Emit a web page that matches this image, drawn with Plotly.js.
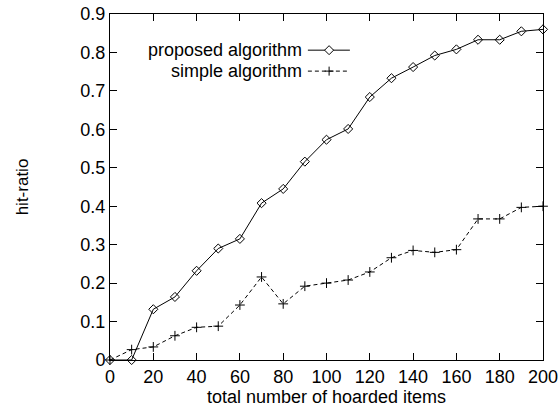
<!DOCTYPE html>
<html>
<head>
<meta charset="utf-8">
<script src="https://cdn.plot.ly/plotly-3.0.1.min.js"></script>
<style>html,body{margin:0;padding:0;background:#fff;}#chart{width:560px;height:407px;}</style>
</head>
<body>
<div id="chart"></div>
<script>
const xItems = [0,10,20,30,40,50,60,70,80,90,100,110,120,130,140,150,160,170,180,190,200];
const proposed = [0,0,0.132,0.164,0.232,0.29,0.315,0.408,0.445,0.516,0.573,0.601,0.684,0.733,0.762,0.792,0.808,0.833,0.833,0.855,0.86];
const simple = [0,0.027,0.034,0.063,0.085,0.088,0.143,0.216,0.146,0.192,0.2,0.208,0.229,0.266,0.285,0.28,0.287,0.367,0.367,0.397,0.4];
const seriesNames = ["proposed algorithm","simple algorithm"];
const xTicks = [0,20,40,60,80,100,120,140,160,180,200];
const yTicks = [0,0.1,0.2,0.3,0.4,0.5,0.6,0.7,0.8,0.9];

const FONT = "Liberation Sans, Arial, sans-serif";
const FS = 18;

const traces = [
  {x:xItems, y:proposed, name:seriesNames[0], type:'scatter', mode:'lines+markers',
   line:{color:'#000', width:1}, marker:{symbol:'diamond-open', size:7, color:'#000', line:{width:1, color:'#000'}}, cliponaxis:false},
  {x:xItems, y:simple, name:seriesNames[1], type:'scatter', mode:'lines+markers',
   line:{color:'#000', width:1, dash:'4px,3px'}, marker:{symbol:'cross-thin-open', size:7, color:'#000', line:{width:1, color:'#000'}}, cliponaxis:false}
];

const axisCommon = {showgrid:false, zeroline:false, showline:true, linecolor:'#000', linewidth:1,
  ticks:'inside', ticklen:7, tickwidth:1, tickcolor:'#000', mirror:'ticks',
  tickfont:{family:FONT, size:FS, color:'#000'}};

const rowY = [0.8955, 0.8349];
const textX = 0.4457, lineX0 = 0.457, lineX1 = 0.554, markX = 0.506;

const layout = {
  width:560, height:407,
  margin:{l:110, r:17, t:13.5, b:47},
  paper_bgcolor:'#fff', plot_bgcolor:'#fff',
  showlegend:false,
  font:{family:FONT, size:FS, color:'#000'},
  xaxis:Object.assign({}, axisCommon, {range:[0,200], tickvals:xTicks, ticktext:xTicks.map(String),
    title:{text:'total number of hoarded items', font:{family:FONT, size:FS, color:'#000'}, standoff:2}}),
  yaxis:Object.assign({}, axisCommon, {range:[0,0.9], tickvals:yTicks, ticktext:yTicks.map(v=>String(v)),
    title:{text:'hit-ratio', font:{family:FONT, size:17, color:'#000'}, standoff:47}}),
  annotations: seriesNames.map((n,i)=>({xref:'paper', yref:'paper', x:textX, y:rowY[i], xanchor:'right', yanchor:'middle',
    text:n, showarrow:false, borderpad:0, font:{family:FONT, size:FS, color:'#000'}})),
  shapes: [
    {type:'line', xref:'paper', yref:'paper', x0:lineX0, x1:lineX1, y0:rowY[0], y1:rowY[0], line:{color:'#000', width:1}},
    {type:'path', xref:'paper', yref:'paper', xsizemode:'pixel', ysizemode:'pixel', xanchor:markX, yanchor:rowY[0],
     path:'M-4.5,0 L0,4.5 L4.5,0 L0,-4.5 Z', fillcolor:'#fff', line:{color:'#000', width:1}},
    {type:'line', xref:'paper', yref:'paper', x0:lineX0, x1:lineX1, y0:rowY[1], y1:rowY[1], line:{color:'#000', width:1, dash:'4px,3px'}},
    {type:'path', xref:'paper', yref:'paper', xsizemode:'pixel', ysizemode:'pixel', xanchor:markX, yanchor:rowY[1],
     path:'M-4.5,0 L4.5,0 M0,-4.5 L0,4.5', line:{color:'#000', width:1}}
  ]
};

Plotly.newPlot('chart', traces, layout, {staticPlot:true, displayModeBar:false});
</script>
</body>
</html>
